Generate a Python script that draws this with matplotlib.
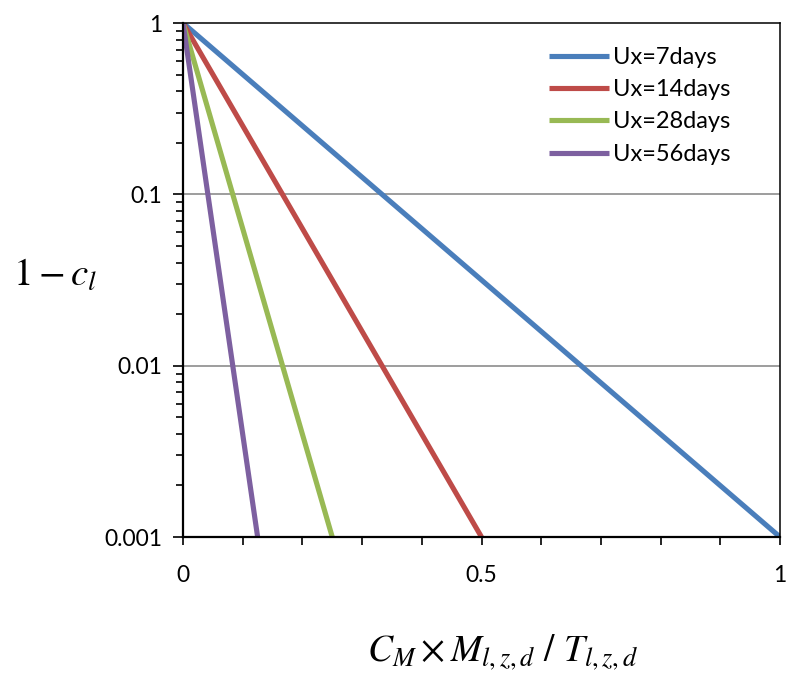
import matplotlib
matplotlib.use("Agg")
import matplotlib.pyplot as plt
from matplotlib.ticker import FixedLocator, MultipleLocator, LogLocator, NullFormatter

# Data: straight lines on log scale from (0, 1) to (x_end, 0.001)
labels = ["Ux=7days", "Ux=14days", "Ux=28days", "Ux=56days"]
x_end = [1.0, 0.5, 0.25, 0.125]
y_start = 1.0
y_end = 0.001
colors = ["#4A7EBB", "#BE4B48", "#98B954", "#7D60A0"]

x_ticks = [0, 0.5, 1]
x_ticklabels = ["0", "0.5", "1"]
y_ticks = [0.001, 0.01, 0.1, 1]
y_ticklabels = ["0.001", "0.01", "0.1", "1"]

plt.rcParams["font.family"] = ["Lato", "DejaVu Sans"]
plt.rcParams["mathtext.fontset"] = "stix"

fig = plt.figure(figsize=(7.86, 6.75), dpi=100)
ax = fig.add_axes([183 / 786, 1 - 537 / 675, (780 - 183) / 786, (537 - 23) / 675])

for lab, xe, c in zip(labels, x_end, colors):
    ax.plot([0, xe], [y_start, y_end], color=c, lw=3.7, label=lab, solid_capstyle="butt")

ax.set_yscale("log")
ax.set_xlim(0, 1)
ax.set_ylim(0.001, 1)

ax.xaxis.set_major_locator(FixedLocator(x_ticks))
ax.set_xticklabels(x_ticklabels)
ax.xaxis.set_minor_locator(MultipleLocator(0.1))
ax.yaxis.set_major_locator(FixedLocator(y_ticks))
ax.set_yticklabels(y_ticklabels)
ax.yaxis.set_minor_locator(LogLocator(base=10, subs=range(2, 10)))
ax.yaxis.set_minor_formatter(NullFormatter())

ax.tick_params(axis="x", which="both", direction="out", length=6, width=1.2,
               labelsize=16.5, pad=14)
ax.tick_params(axis="y", which="major", direction="out", length=7, width=1.2,
               labelsize=16.5, pad=8)
ax.tick_params(axis="y", which="minor", direction="out", length=5, width=1.2)

for yv in [0.01, 0.1]:
    ax.axhline(yv, color="#8c8c8c", lw=1.2, zorder=0)

for s in ax.spines.values():
    s.set_color("black")
    s.set_linewidth(1.1)
ax.spines["left"].set_linewidth(1.6)
ax.spines["bottom"].set_linewidth(1.6)

leg = ax.legend(loc="upper right", bbox_to_anchor=(0.952, 0.995), frameon=False,
                fontsize=17, handlelength=2.55, handletextpad=0.15, labelspacing=0.48)

fig.text(55 / 786, 1 - 275 / 675, r"$1-c_l$", fontsize=28, ha="center", va="center")
fig.text(503 / 786, 1 - 652 / 675, r"$C_M \times M_{l,z,d}\ /\ T_{l,z,d}$",
         fontsize=27, ha="center", va="center")

fig.savefig("out.png", dpi=100)
